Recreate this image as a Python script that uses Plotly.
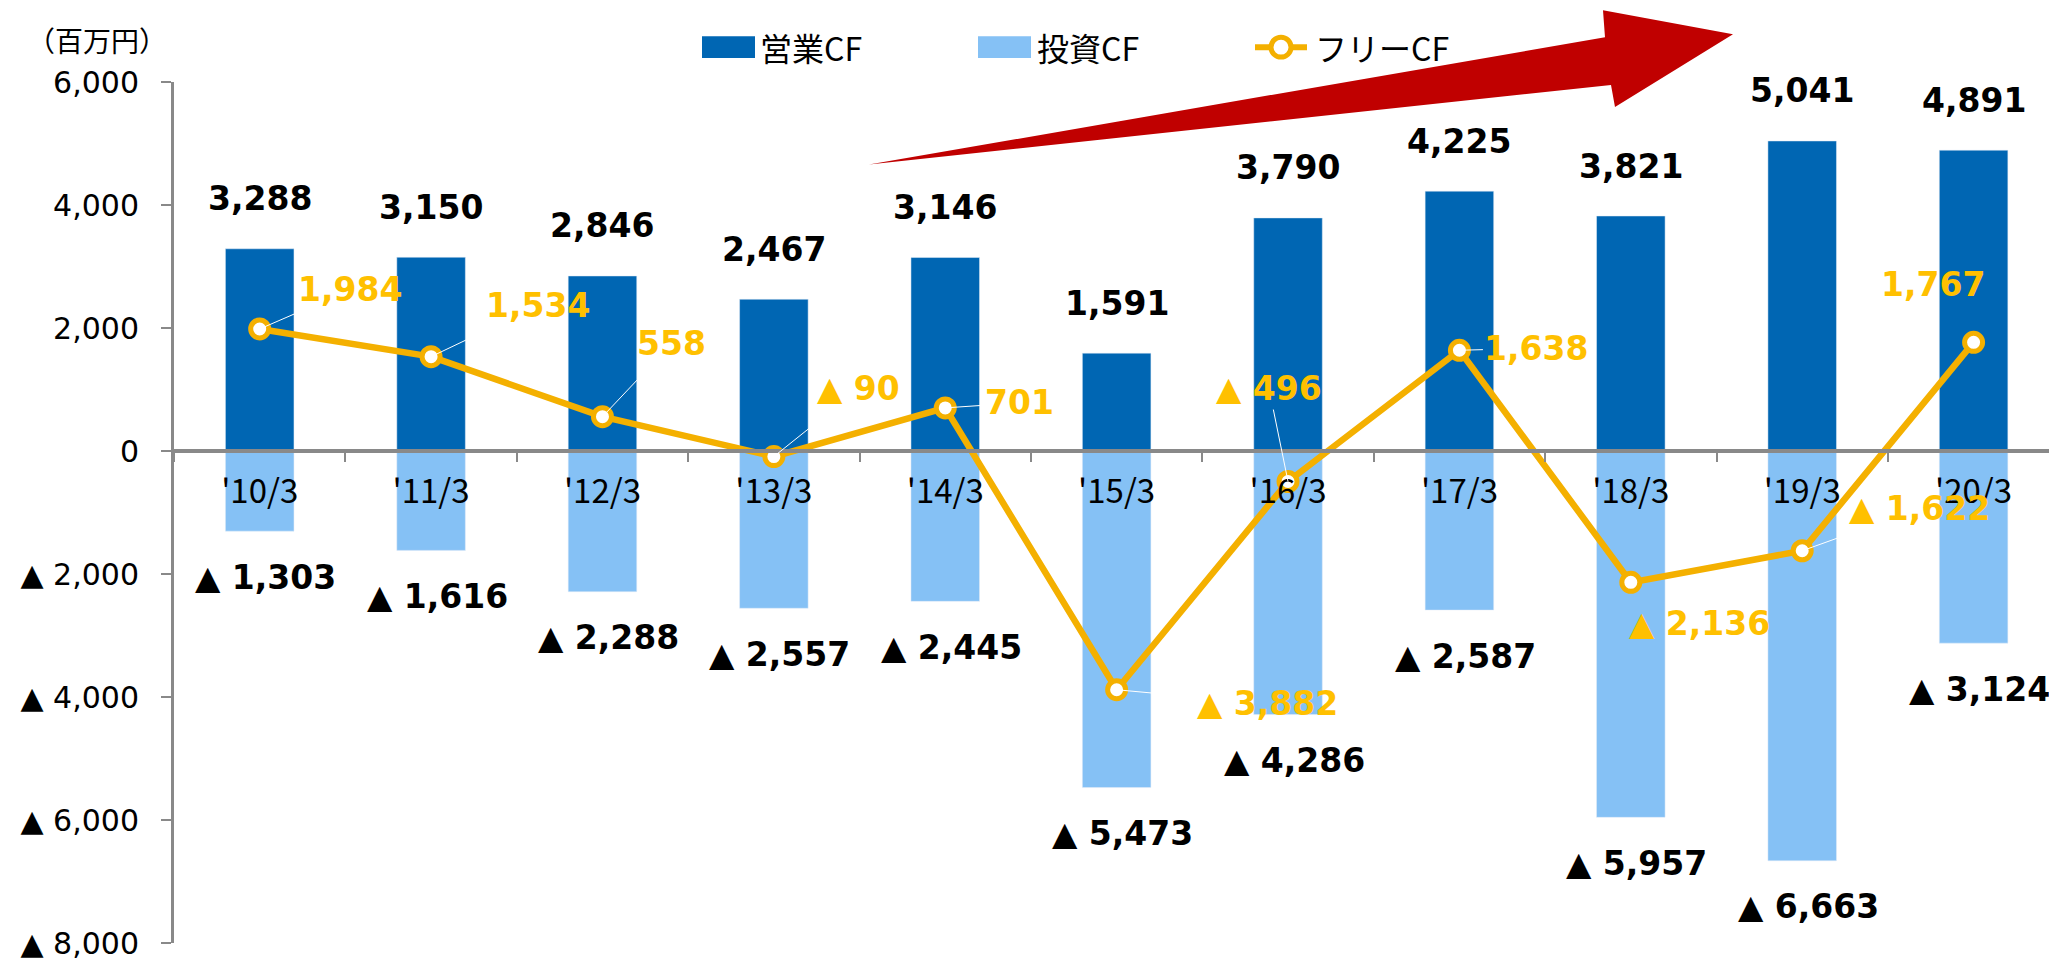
import plotly.graph_objects as go

# ---------------- data ----------------
categories = ["'10/3", "'11/3", "'12/3", "'13/3", "'14/3", "'15/3",
              "'16/3", "'17/3", "'18/3", "'19/3", "'20/3"]
operating_cf = [3288, 3150, 2846, 2467, 3146, 1591, 3790, 4225, 3821, 5041, 4891]
investing_cf = [-1303, -1616, -2288, -2557, -2445, -5473, -4286, -2587, -5957, -6663, -3124]
free_cf = [1984, 1534, 558, -90, 701, -3882, -496, 1638, -2136, -1622, 1767]
y_tickvals = [6000, 4000, 2000, 0, -2000, -4000, -6000, -8000]
y_ticktext = ["6,000", "4,000", "2,000", "0", "▲ 2,000", "▲ 4,000", "▲ 6,000", "▲ 8,000"]
legend_names = ["営業CF", "投資CF", "フリーCF"]
unit_label = "（百万円）"

# ---------------- style ----------------
W, H = 2049, 961
ML, MR, MT, MB = 174, 0, 82, 14
DARK = "#0066B3"
LIGHT = "#85C1F5"
ORANGE = "#F4B000"
ORANGE_TXT = "#FFC000"
GRAY = "#898989"
RED = "#C00000"
JP = "Noto Sans CJK JP"
NUM = "DejaVu Sans"

# free CF label offsets (pixels) and whether a leader line is drawn
free_ax = [90, 107, 69, 85, 74, 151, -19, 77, 69, 117, -41]
free_ay = [-39, -51, -73, -68, -5, 14, -93, -2, 41, -42, -58]
free_leader = [True, True, True, True, True, True, True, True, False, True, False]

PW = W - ML - MR
PH = H - MT - MB


def px(x):
    return (x - ML) / PW


def py(y):
    return (H - MB - y) / PH


def fmt(v):
    return f"{v:,}" if v >= 0 else f"▲ {-v:,}"


fig = go.Figure()
fig.add_bar(x=categories, y=operating_cf, name=legend_names[0], marker_color=DARK,
            width=0.4, showlegend=False)
fig.add_bar(x=categories, y=investing_cf, name=legend_names[1], marker_color=LIGHT,
            width=0.4, showlegend=False)
fig.add_scatter(x=categories, y=free_cf, name=legend_names[2], mode="lines+markers",
                line=dict(color=ORANGE, width=6.5),
                marker=dict(size=18, color="white", line=dict(color=ORANGE, width=5)),
                showlegend=False)

ann = []
for c, v in zip(categories, operating_cf):
    ann.append(dict(x=c, y=v, text=f"<b>{fmt(v)}</b>", showarrow=False, yshift=50,
                    font=dict(family=NUM, size=33, color="black")))
for c, v in zip(categories, investing_cf):
    ann.append(dict(x=c, y=v, text=f"<b>{fmt(v)}</b>", showarrow=False, yshift=-46, xshift=6,
                    font=dict(family=NUM, size=33, color="black")))
for c, v, ax, ay, ld in zip(categories, free_cf, free_ax, free_ay, free_leader):
    d = dict(x=c, y=v, text=f"<b>{fmt(v)}</b>",
             font=dict(family=NUM, size=33, color=ORANGE_TXT))
    if ld:
        d.update(showarrow=True, ax=ax, ay=ay, arrowhead=0, arrowwidth=1,
                 arrowcolor="white", standoff=0, startstandoff=0)
    else:
        d.update(showarrow=False, xshift=ax, yshift=-ay)
    ann.append(d)

# unit label
ann.append(dict(xref="paper", yref="paper", x=px(97), y=py(40), text=unit_label,
                xanchor="center", yanchor="middle", showarrow=False,
                font=dict(family=JP, size=28, color="black")))

# custom legend
shapes = []
leg_y = 47
shapes.append(dict(type="rect", xref="paper", yref="paper", x0=px(702), x1=px(755),
                   y0=py(leg_y - 11), y1=py(leg_y + 11), fillcolor=DARK, line=dict(width=0)))
shapes.append(dict(type="rect", xref="paper", yref="paper", x0=px(978), x1=px(1031),
                   y0=py(leg_y - 11), y1=py(leg_y + 11), fillcolor=LIGHT, line=dict(width=0)))
shapes.append(dict(type="line", xref="paper", yref="paper", x0=px(1255), x1=px(1307),
                   y0=py(leg_y), y1=py(leg_y), line=dict(color=ORANGE, width=6)))
shapes.append(dict(type="circle", xref="paper", yref="paper", x0=px(1271), x1=px(1291),
                   y0=py(leg_y - 10), y1=py(leg_y + 10), fillcolor="white",
                   line=dict(color=ORANGE, width=5)))
for xl, name in zip([758, 1035, 1313], legend_names):
    ann.append(dict(xref="paper", yref="paper", x=px(xl), y=py(leg_y), text=name,
                    xanchor="left", yanchor="middle", showarrow=False,
                    font=dict(family=JP, size=32, color="black")))

# red arrow
pts = [(869, 165), (1605, 37), (1603, 10), (1733, 34), (1615, 107), (1611, 85)]
path = "M " + " L ".join(f"{px(a):.5f},{py(b):.5f}" for a, b in pts) + " Z"
shapes.append(dict(type="path", xref="paper", yref="paper", path=path,
                   fillcolor=RED, line=dict(width=0), layer="above"))

fig.update_layout(
    width=W, height=H,
    margin=dict(l=ML, r=MR, t=MT, b=MB),
    paper_bgcolor="white", plot_bgcolor="white",
    barmode="relative",
    annotations=ann, shapes=shapes,
    showlegend=False,
    xaxis=dict(
        type="category", range=[-0.5, 10.44],
        anchor="free", position=8000 / 14000,
        showline=True, linecolor=GRAY, linewidth=4,
        ticks="outside", tickson="boundaries", ticklen=9, tickwidth=2, tickcolor=GRAY,
        tickfont=dict(family=JP, size=33, color="black"),
        ticklabelstandoff=10,
        showgrid=False, zeroline=False,
    ),
    yaxis=dict(
        range=[-8000, 6000], tickvals=y_tickvals, ticktext=y_ticktext,
        showline=True, linecolor=GRAY, linewidth=3,
        ticks="outside", ticklen=10, tickwidth=2, tickcolor=GRAY,
        tickfont=dict(family=NUM, size=30, color="black"),
        ticklabelstandoff=16, ticklabeloverflow="allow",
        showgrid=False, zeroline=False,
    ),
)

fig.write_html("out.html", config={"displayModeBar": False},
               post_script="document.body.style.margin='0';document.body.style.overflow='hidden';")
